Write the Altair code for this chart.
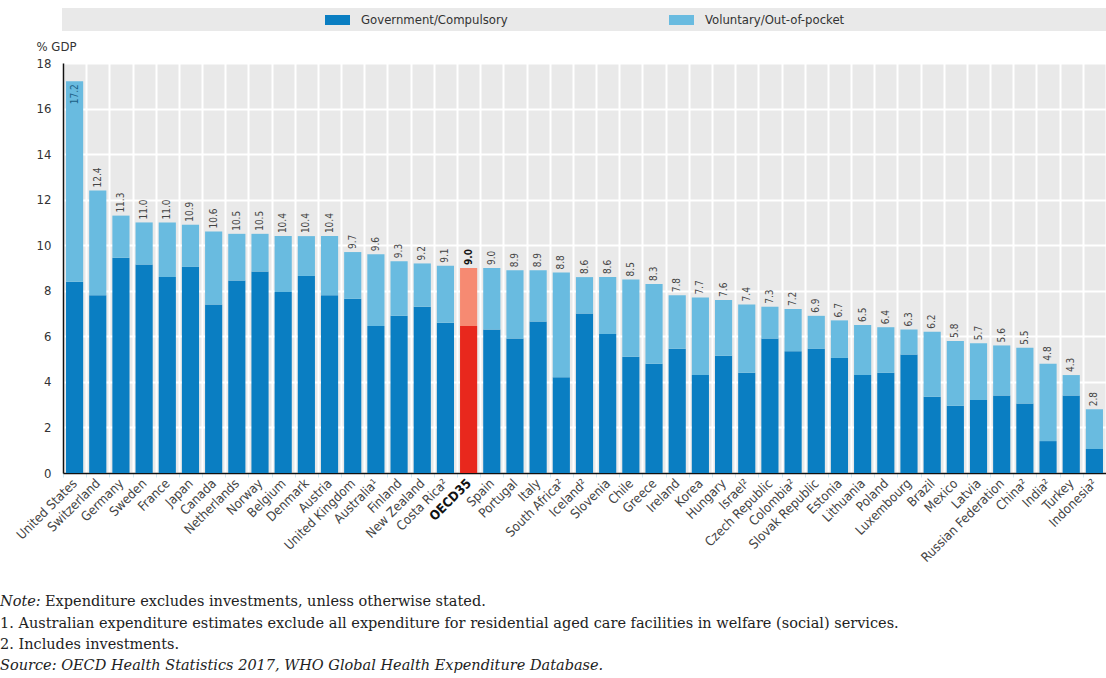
import altair as alt
import pandas as pd

countries = ["United States", "Switzerland", "Germany", "Sweden", "France", "Japan", "Canada",
             "Netherlands", "Norway", "Belgium", "Denmark", "Austria", "United Kingdom",
             "Australia¹", "Finland", "New Zealand", "Costa Rica²", "OECD35", "Spain", "Portugal",
             "Italy", "South Africa²", "Iceland²", "Slovenia", "Chile", "Greece", "Ireland", "Korea",
             "Hungary", "Israel²", "Czech Republic", "Colombia²", "Slovak Republic", "Estonia",
             "Lithuania", "Poland", "Luxembourg", "Brazil", "Mexico", "Latvia", "Russian Federation",
             "China²", "India²", "Turkey", "Indonesia²"]
totals = [17.2, 12.4, 11.3, 11.0, 11.0, 10.9, 10.6, 10.5, 10.5, 10.4, 10.4, 10.4, 9.7, 9.6, 9.3,
          9.2, 9.1, 9.0, 9.0, 8.9, 8.9, 8.8, 8.6, 8.6, 8.5, 8.3, 7.8, 7.7, 7.6, 7.4, 7.3, 7.2, 6.9,
          6.7, 6.5, 6.4, 6.3, 6.2, 5.8, 5.7, 5.6, 5.5, 4.8, 4.3, 2.8]
government = [8.4, 7.8, 9.45, 9.15, 8.6, 9.05, 7.4, 8.45, 8.85, 7.95, 8.65, 7.8, 7.65, 6.45, 6.9,
              7.3, 6.6, 6.45, 6.3, 5.9, 6.65, 4.2, 7.0, 6.1, 5.1, 4.8, 5.45, 4.3, 5.15, 4.4, 5.9,
              5.35, 5.45, 5.05, 4.3, 4.4, 5.2, 3.35, 2.95, 3.2, 3.4, 3.05, 1.4, 3.4, 1.05]

series = ["Government/Compulsory", "Voluntary/Out-of-pocket"]
keys = series + ["OECD35 government", "OECD35 voluntary"]
colors = ["#0a7ec2", "#69bbe0", "#e8281d", "#f68a72"]

y_ticks = [0, 2, 4, 6, 8, 10, 12, 14, 16, 18]

note_head = "Note:"
note_body = "Expenditure excludes investments, unless otherwise stated."
footnotes = ["1.  Australian expenditure estimates exclude all expenditure for residential aged care facilities in welfare (social) services.",
             "2.  Includes investments."]
source = "Source: OECD Health Statistics 2017, WHO Global Health Expenditure Database."

rows = []
for c, t, g in zip(countries, totals, government):
    o = c == "OECD35"
    rows.append({"country": c, "start": 0, "end": g, "key": keys[2] if o else keys[0]})
    rows.append({"country": c, "start": g, "end": t, "key": keys[3] if o else keys[1]})
bars_df = pd.DataFrame(rows)
lab_df = pd.DataFrame({"country": countries, "total": totals})

W, H = 1043, 410
SANS = "Liberation Sans Narrow, DejaVu Sans Condensed, Liberation Sans, sans-serif"
SERIF = "DejaVu Serif, Liberation Serif, serif"

xenc = alt.X("country:N", sort=countries,
             scale=alt.Scale(paddingInner=0, paddingOuter=0),
             axis=alt.Axis(title=None, labelAngle=-45, labelAlign="right", labelBaseline="middle",
                           labelFontSize=13, labelFont=SANS, labelPadding=4,
                           labelColor={"expr": "datum.value == 'OECD35' ? '#111' : '#444'"},
                           labelFontWeight={"expr": "datum.value == 'OECD35' ? 'bold' : 'normal'"},
                           bandPosition=0, grid=True, gridColor="white", gridWidth=2,
                           ticks=True, tickColor="#cfe9f5", tickSize=4, tickBand="extent",
                           domainColor="#111", domainWidth=1.5, labelOverlap=False))

band = alt.Chart(pd.DataFrame({"a": [0]})).mark_rect(color="#e9e9e9").encode(
    x=alt.value(-1), x2=alt.value(W), y=alt.value(-55), y2=alt.value(-32))

bars = alt.Chart(bars_df).mark_bar(width={"band": 0.74}).encode(
    x=xenc,
    y=alt.Y("start:Q", scale=alt.Scale(domain=[0, 18], nice=False),
            axis=alt.Axis(values=y_ticks, title="% GDP", titleAngle=0, titleAlign="left",
                          titleBaseline="middle", titleX=-27, titleY=-17, titleFontSize=13,
                          titleFontWeight="normal", titleColor="#333", titleFont=SANS,
                          labelFontSize=13, labelFont=SANS, labelColor="#333", labelPadding=12,
                          ticks=False, grid=True, gridColor="white", gridWidth=2,
                          domainColor="#111", domainWidth=1.5)),
    y2="end:Q",
    color=alt.Color("key:N", scale=alt.Scale(domain=keys, range=colors),
                    legend=alt.Legend(values=series, orient="none", direction="horizontal",
                                      legendX=264.5, legendY=-53, title=None,
                                      symbolType="M-1.25,-0.5H1.25V0.5H-1.25Z", symbolSize=400,
                                      symbolStrokeWidth=0, symbolOpacity=1,
                                      labelFontSize=13, labelFont=SANS, labelColor="#333",
                                      labelOffset=13.5, columnPadding=160)),
)

base_lab = alt.Chart(lab_df).encode(
    x=alt.X("country:N", sort=countries),
    y=alt.Y("total:Q"),
    text=alt.Text("total:Q", format=".1f"))

labels = base_lab.transform_filter("datum.total < 17 && datum.country != 'OECD35'").mark_text(
    angle=270, align="left", baseline="middle", dx=3, fontSize=10, font=SANS, color="#444")
labels_in = base_lab.transform_filter("datum.total >= 17").mark_text(
    angle=270, align="right", baseline="middle", dx=-3, fontSize=10, font=SANS, color="#1d5f86")
labels_oecd = base_lab.transform_filter("datum.country == 'OECD35'").mark_text(
    angle=270, align="left", baseline="middle", dx=3, fontSize=10, font=SANS, color="#111",
    fontWeight="bold")

one = pd.DataFrame({"a": [0]})
def note(txt, x, y, style="normal"):
    return alt.Chart(one).mark_text(align="left", baseline="alphabetic", fontSize=14.5, font=SERIF,
                                    color="#222", fontStyle=style, text=txt).encode(
        x=alt.value(x), y=alt.value(y))

notes = [note(note_head, -63, 543, "italic"), note(note_body, -18, 543),
         note(footnotes[0], -63, 565), note(footnotes[1], -63, 586),
         note(source, -63, 607, "italic")]

chart = alt.layer(band, bars, labels, labels_in, labels_oecd, *notes).properties(
    width=W, height=H,
    autosize=alt.AutoSizeParams(type="none"),
    padding={"left": 63, "top": 63, "right": 0, "bottom": 205},
    background="white",
).configure_view(fill="#e9e9e9", stroke=None)

chart.save("out.html", embed_options={"renderer": "svg", "actions": False})
